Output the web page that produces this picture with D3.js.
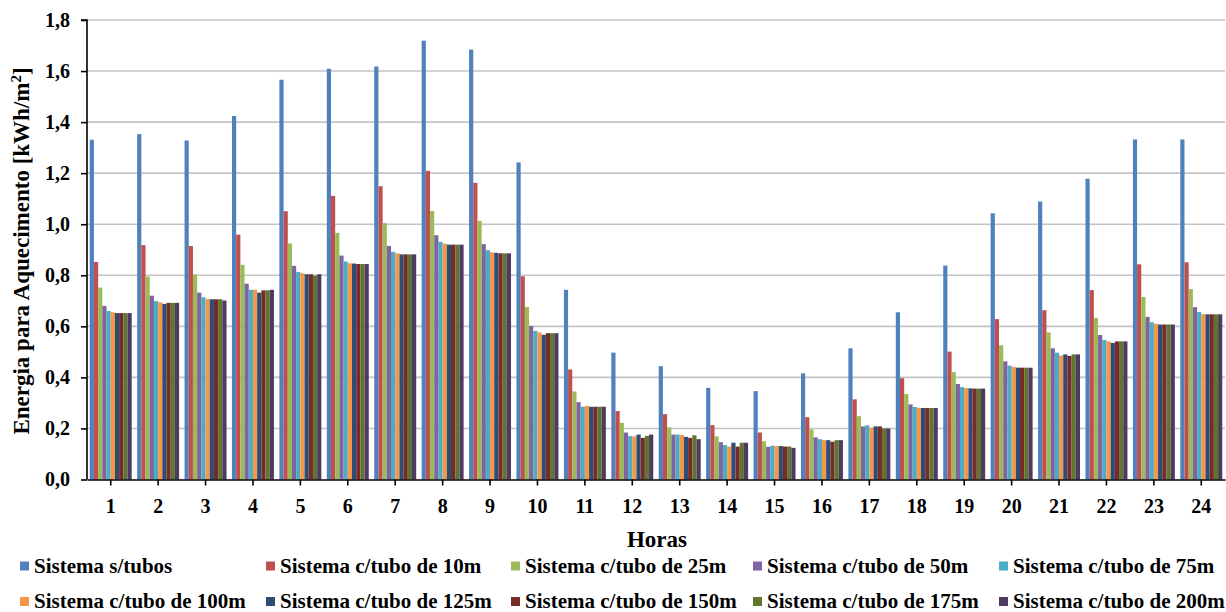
<!DOCTYPE html>
<html>
<head>
<meta charset="utf-8">
<script src="https://cdn.jsdelivr.net/npm/d3@7/dist/d3.min.js"></script>
<style>
  html, body { margin: 0; padding: 0; background: #ffffff; }
  svg { display: block; font-family: "Liberation Serif", "Times New Roman", serif; font-weight: bold; }
</style>
</head>
<body>
<svg id="chart" width="1226" height="612"></svg>
<script>
// Hours of the day (categories)
const hours = ["1","2","3","4","5","6","7","8","9","10","11","12","13","14","15","16","17","18","19","20","21","22","23","24"];

// Series names
const seriesNames = [
  "Sistema s/tubos",
  "Sistema c/tubo de 10m",
  "Sistema c/tubo de 25m",
  "Sistema c/tubo de 50m",
  "Sistema c/tubo de 75m",
  "Sistema c/tubo de 100m",
  "Sistema c/tubo de 125m",
  "Sistema c/tubo de 150m",
  "Sistema c/tubo de 175m",
  "Sistema c/tubo de 200m"
];

// Heating energy per hour [kWh/m²], one array per system
const semTubos = [1.331,1.353,1.328,1.424,1.566,1.609,1.618,1.719,1.684,1.242,0.743,0.497,0.444,0.359,0.346,0.416,0.514,0.655,0.838,1.043,1.089,1.178,1.332,1.332];
const tubo10  = [0.852,0.918,0.915,0.959,1.051,1.111,1.149,1.209,1.162,0.796,0.431,0.268,0.256,0.213,0.184,0.244,0.314,0.397,0.501,0.628,0.663,0.742,0.843,0.851];
const tubo25  = [0.752,0.795,0.803,0.841,0.925,0.966,1.004,1.052,1.013,0.676,0.345,0.222,0.204,0.169,0.150,0.196,0.248,0.335,0.421,0.526,0.576,0.633,0.715,0.746];
const tubo50  = [0.680,0.720,0.732,0.767,0.837,0.877,0.915,0.957,0.922,0.601,0.303,0.184,0.176,0.146,0.128,0.165,0.208,0.294,0.374,0.463,0.514,0.566,0.637,0.675];
const tubo75  = [0.660,0.699,0.714,0.743,0.813,0.854,0.892,0.931,0.898,0.582,0.285,0.170,0.176,0.135,0.132,0.158,0.212,0.284,0.362,0.446,0.497,0.546,0.616,0.656];
const tubo100 = [0.655,0.694,0.707,0.743,0.808,0.847,0.886,0.924,0.890,0.576,0.288,0.169,0.174,0.129,0.131,0.154,0.203,0.281,0.358,0.441,0.486,0.541,0.610,0.648];
const tubo125 = [0.652,0.688,0.706,0.732,0.804,0.846,0.882,0.920,0.888,0.567,0.285,0.176,0.167,0.144,0.131,0.154,0.208,0.280,0.357,0.438,0.490,0.535,0.607,0.647];
const tubo150 = [0.652,0.692,0.706,0.741,0.804,0.844,0.882,0.920,0.886,0.573,0.285,0.163,0.163,0.129,0.129,0.148,0.208,0.280,0.356,0.438,0.484,0.541,0.607,0.647];
const tubo175 = [0.652,0.692,0.706,0.741,0.799,0.844,0.882,0.920,0.886,0.573,0.285,0.171,0.173,0.144,0.129,0.154,0.200,0.280,0.356,0.438,0.490,0.541,0.607,0.647];
const tubo200 = [0.652,0.692,0.701,0.743,0.804,0.844,0.882,0.920,0.886,0.573,0.285,0.176,0.158,0.144,0.124,0.154,0.200,0.280,0.356,0.438,0.490,0.541,0.607,0.647];

// Y axis tick values and labels
const yTicks = [0, 0.2, 0.4, 0.6, 0.8, 1.0, 1.2, 1.4, 1.6, 1.8];
const yTickLabels = ["0,0","0,2","0,4","0,6","0,8","1,0","1,2","1,4","1,6","1,8"];

const colors = ["#4F81BD","#C0504D","#9BBB59","#8064A2","#4BACC6","#F79646","#2C4D75","#772C2A","#5F7530","#4D3B62"];

const seriesValues = [semTubos, tubo10, tubo25, tubo50, tubo75, tubo100, tubo125, tubo150, tubo175, tubo200];
const series = seriesNames.map((name, i) => ({ name, color: colors[i], values: seriesValues[i] }));

const svg = d3.select("#chart");
const plotLeft = 87, plotRight = 1225, plotTop = 20, plotBottom = 479.5;

const x0 = d3.scaleBand().domain(hours).range([plotLeft, plotRight]).paddingInner(0.115).paddingOuter(0.0575);
const x1 = d3.scaleBand().domain(seriesNames).range([0, x0.bandwidth()]).padding(0);
const y = d3.scaleLinear().domain([0, 1.8]).range([plotBottom, plotTop]);

// Horizontal gridlines
svg.append("g")
  .selectAll("line")
  .data(yTicks.filter(d => d > 0))
  .join("line")
  .attr("x1", plotLeft).attr("x2", plotRight)
  .attr("y1", d => y(d)).attr("y2", d => y(d))
  .attr("stroke", "#c4c4c4").attr("stroke-width", 1.6);

// Grouped bars
const groups = svg.append("g")
  .selectAll("g")
  .data(hours)
  .join("g")
  .attr("transform", d => `translate(${x0(d)},0)`);

groups.selectAll("rect")
  .data((h, hi) => series.map(s => ({ name: s.name, color: s.color, v: s.values[hi] })))
  .join("rect")
  .attr("x", d => x1(d.name))
  .attr("width", x1.bandwidth())
  .attr("y", d => y(d.v))
  .attr("height", d => y(0) - y(d.v))
  .attr("fill", d => d.color);

// Y axis
const yAxis = d3.axisLeft(y)
  .tickValues(yTicks)
  .tickFormat((d, i) => yTickLabels[i])
  .tickSize(6)
  .tickPadding(11);
const gy = svg.append("g").attr("transform", `translate(${plotLeft},0)`).call(yAxis);
gy.select(".domain").attr("stroke", "#000").attr("stroke-width", 1.6).attr("d", `M-6,${plotTop}H0V${plotBottom}`);
gy.selectAll(".tick line").attr("stroke", "#000").attr("stroke-width", 1.6);
gy.selectAll(".tick text")
  .attr("fill", "#000")
  .style("font-family", "'Liberation Serif', 'Times New Roman', serif")
  .style("font-weight", "bold")
  .style("font-size", "20px");

// X axis
const xAxis = d3.axisBottom(x0).tickSize(6).tickPadding(13).tickSizeOuter(0);
const gx = svg.append("g").attr("transform", `translate(0,${plotBottom})`).call(xAxis);
gx.select(".domain").attr("stroke", "#000").attr("stroke-width", 1.6);
gx.selectAll(".tick line").attr("stroke", "#000").attr("stroke-width", 1.6);
gx.selectAll(".tick text")
  .attr("fill", "#000")
  .style("font-family", "'Liberation Serif', 'Times New Roman', serif")
  .style("font-weight", "bold")
  .style("font-size", "20px");

// Axis titles
svg.append("text")
  .attr("x", (plotLeft + plotRight) / 2 + 1)
  .attr("y", 547)
  .attr("text-anchor", "middle")
  .style("font-size", "23px")
  .text("Horas");

const yTitle = svg.append("text")
  .attr("transform", "translate(29,251) rotate(-90)")
  .attr("text-anchor", "middle")
  .style("font-size", "23px");
yTitle.append("tspan").text("Energia para Aquecimento [kWh/m");
yTitle.append("tspan").attr("dy", -8).style("font-size", "15px").text("2");
yTitle.append("tspan").attr("dy", 8).text("]");

// Legend: two rows of five
const legendCols = [20, 266, 511, 753, 999];
const legendRows = [572.5, 608];
const legend = svg.append("g")
  .selectAll("g")
  .data(series)
  .join("g")
  .attr("transform", (d, i) => `translate(${legendCols[i % 5]},${legendRows[Math.floor(i / 5)]})`);
legend.append("rect")
  .attr("x", 0).attr("y", -11).attr("width", 9).attr("height", 9)
  .attr("fill", d => d.color);
legend.append("text")
  .attr("x", 14).attr("y", 0)
  .style("font-size", "21px")
  .text(d => d.name);
</script>
</body>
</html>
